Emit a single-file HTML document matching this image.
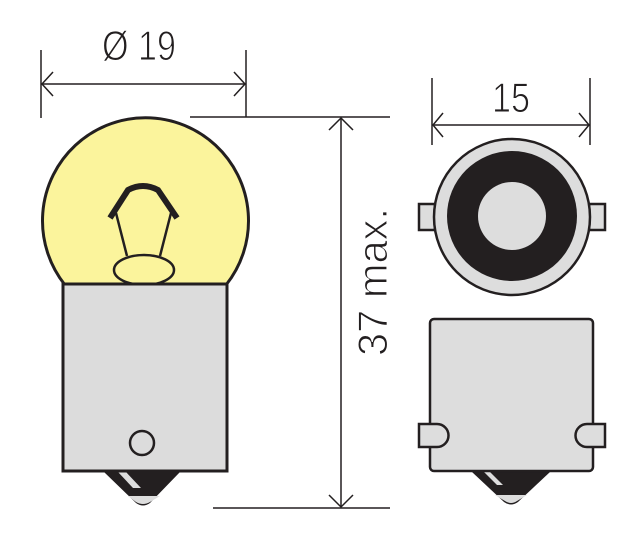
<!DOCTYPE html>
<html><head><style>body{margin:0;background:#fff}svg{display:block}</style></head><body>
<svg width="640" height="551" viewBox="0 0 640 551" xmlns="http://www.w3.org/2000/svg" font-family="Liberation Sans, sans-serif">
<g stroke="#231f20" stroke-width="1.5" fill="none">
<line x1="41" y1="50" x2="41" y2="118"/><line x1="246" y1="50" x2="246" y2="117"/>
<line x1="41" y1="84" x2="246" y2="84"/>
<polyline points="53,72 42,84 53,96"/><polyline points="234,72 245,84 234,96"/>
<line x1="190" y1="117" x2="390" y2="117"/><line x1="213" y1="508" x2="390" y2="508"/>
<line x1="341" y1="118" x2="341" y2="507"/>
<polyline points="329,130 341,118 353,130"/><polyline points="329,495 341,507 353,495"/>
<line x1="432" y1="78" x2="432" y2="145"/><line x1="590" y1="78" x2="590" y2="145"/>
<line x1="432" y1="125" x2="590" y2="125"/>
<polyline points="443,113 433,125 443,137"/><polyline points="579,113 589,125 579,137"/>
</g>
<g fill="#231f20" stroke="#fff" stroke-width="1.1">
<text x="102" y="60" font-size="42" textLength="74" lengthAdjust="spacingAndGlyphs">Ø 19</text>
<text x="492" y="112" font-size="42" textLength="38" lengthAdjust="spacingAndGlyphs">15</text>
<text transform="translate(387,356) rotate(-90)" font-size="42" textLength="148" lengthAdjust="spacingAndGlyphs">37 max.</text>
</g>
<!-- left bulb -->
<path d="M104,472 L136,503 Q143,508 150,503 L180,472 Z" fill="#231f20"/>
<path d="M118,472 L133,488 L141,488 L126,472Z M128,496 L160,496 L150,502 Q143,506 136,502Z" fill="#ddd"/>
<path d="M65,285 A103,103 0 1 1 226,285 Z" fill="#fbf49c" stroke="#231f20" stroke-width="3"/>
<ellipse cx="144" cy="270" rx="30" ry="15" fill="#fbf49c" stroke="#231f20" stroke-width="2.5"/>
<path d="M127,256 L116,213 M160,256 L171,213" stroke="#231f20" stroke-width="2.5" fill="none"/>
<path d="M110,218 L128,190 Q143,182 158,190 L177,218" stroke="#231f20" stroke-width="6" fill="none"/>
<rect x="63" y="284" width="164" height="187" fill="#dcdcdc" stroke="#231f20" stroke-width="3"/>
<circle cx="142" cy="443" r="12" fill="none" stroke="#231f20" stroke-width="2.5"/>
<!-- right top view -->
<rect x="419" y="204" width="16" height="26" fill="#ddd" stroke="#231f20" stroke-width="2.5"/>
<rect x="589" y="204" width="16" height="26" fill="#ddd" stroke="#231f20" stroke-width="2.5"/>
<circle cx="512" cy="217" r="78" fill="#ddd" stroke="#231f20" stroke-width="2.5"/>
<circle cx="512" cy="216" r="65" fill="#231f20"/>
<circle cx="512" cy="216" r="34" fill="#ddd"/>
<!-- right side view -->
<path d="M472,472 L504,502 Q511,507 518,502 L550,472 Z" fill="#231f20"/>
<path d="M484,472 L497,485 L503,485 L490,472Z M495,495 L527,495 L517,501 Q511,505 505,501Z" fill="#ddd"/>
<rect x="430" y="319" width="163" height="152" rx="4" fill="#ddd" stroke="#231f20" stroke-width="2.5"/>
<path d="M419,424 L437,424 A11.5,11.5 0 0 1 437,447 L419,447 Z" fill="#ddd" stroke="#231f20" stroke-width="2.5"/>
<path d="M605,424 L587,424 A11.5,11.5 0 0 0 587,447 L605,447 Z" fill="#ddd" stroke="#231f20" stroke-width="2.5"/>
</svg>
</body></html>
